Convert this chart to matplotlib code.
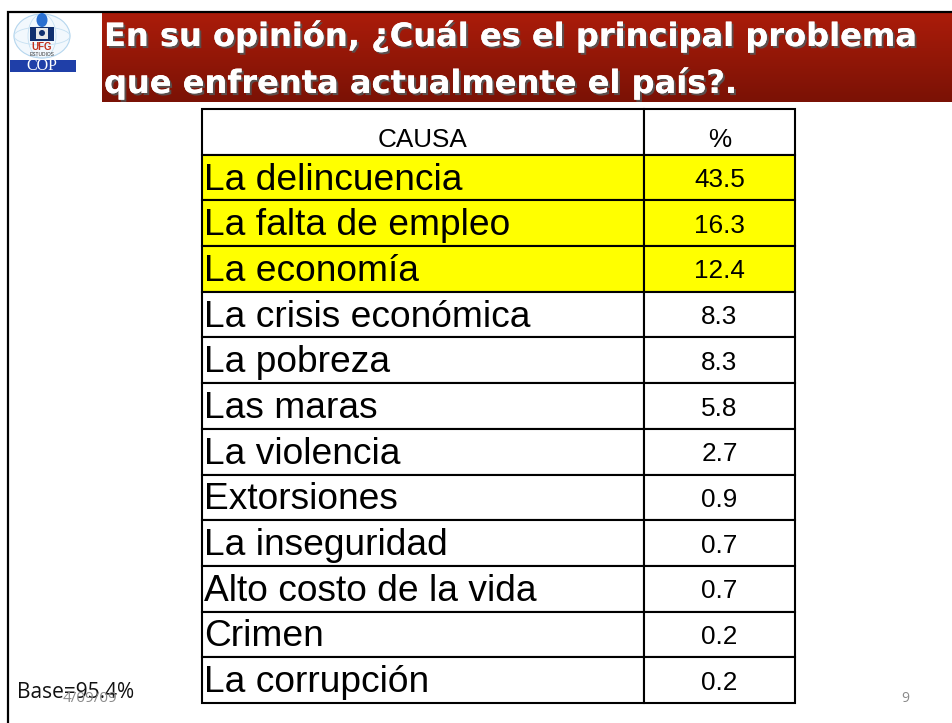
import numpy as np
import matplotlib
matplotlib.use('Agg')
import matplotlib.pyplot as plt
import matplotlib.patheffects as pe
from matplotlib.patches import Ellipse, Rectangle, Circle
from matplotlib.transforms import Affine2D

title_lines = ['En su opinión, ¿Cuál es el principal problema',
               'que enfrenta actualmente el país?.']
header = ['CAUSA', '%']
causas = ['La delincuencia', 'La falta de empleo', 'La economía',
          'La crisis económica', 'La pobreza', 'Las maras', 'La violencia',
          'Extorsiones', 'La inseguridad', 'Alto costo de la vida',
          'Crimen', 'La corrupción']
porcentajes = ['43.5', '16.3', '12.4', '8.3', '8.3', '5.8', '2.7',
               '0.9', '0.7', '0.7', '0.2', '0.2']
resaltadas = 3

W, H = 952, 723
fig = plt.figure(figsize=(W/100, H/100), dpi=100)
ax = fig.add_axes([0, 0, 1, 1])
ax.set_xlim(0, W)
ax.set_ylim(H, 0)
ax.axis('off')

# marco de la diapositiva
ax.plot([8, 8, W], [H, 12, 12], color='black', lw=1.6, solid_joinstyle='miter')

# banda del titulo con degradado
grad = np.linspace(0, 1, 90)[:, None]
top = np.array([0.67, 0.11, 0.04])
bot = np.array([0.48, 0.07, 0.02])
img = top[None, None, :] * (1 - grad[..., None]) + bot[None, None, :] * grad[..., None]
ax.imshow(img, extent=[102, W, 102, 13], aspect='auto', zorder=1)
ax.set_xlim(0, W)
ax.set_ylim(H, 0)

sombra = [pe.withSimplePatchShadow(offset=(1.5, -1.5), shadow_rgbFace='#555555', alpha=0.9), pe.Normal()]
for linea, yb in zip(title_lines, [46, 93]):
    ax.text(104, yb, linea, color='white', fontsize=23.1, fontweight='bold', family='DejaVu Sans',
            va='baseline', ha='left', zorder=3, path_effects=sombra)

# logo
ax.add_patch(Ellipse((42, 36), 56, 44, fc='#f2f8fd', ec='#b5d6ee', lw=0.8, zorder=2))
ax.add_patch(Ellipse((42, 36), 28, 44, fc='none', ec='#c5e0f2', lw=0.6, zorder=2))
ax.add_patch(Ellipse((42, 36), 56, 18, fc='none', ec='#c5e0f2', lw=0.6, zorder=2))
ax.add_patch(Rectangle((30, 27), 24, 14, fc='#12306f', ec='none', zorder=3))
ax.add_patch(Ellipse((42, 20), 11, 14, fc='#2a6fd0', ec='none', zorder=3))
ax.add_patch(Rectangle((36, 28), 12, 11, fc='#e8e8e8', ec='none', zorder=4))
ax.add_patch(Circle((42, 33), 3, fc='#12306f', ec='none', zorder=5))
ax.text(42, 47, 'UFG', color='#c0301c', fontsize=7, fontweight='bold', ha='center', va='center',
        family='Liberation Sans', zorder=4)
ax.text(42, 54.5, 'ESTUDIOS', color='#333333', fontsize=3.5, ha='center', va='center',
        family='Liberation Sans', zorder=4)
ax.add_patch(Rectangle((10, 60), 66, 12, fc='#1f3fa8', ec='none', zorder=3))
ax.text(42, 66, 'COP', color='white', fontsize=11.5, ha='center', va='center',
        family='Liberation Serif', zorder=4)

# tabla
filas = [[c, p] for c, p in zip(causas, porcentajes)]
tx0, tx1, tx2 = 202, 644, 795
ty0, ty1 = 109, 703
tabla = ax.table(cellText=[header] + filas,
                 colWidths=[tx1 - tx0, tx2 - tx1],
                 bbox=[tx0 / W, 1 - ty1 / H, (tx2 - tx0) / W, (ty1 - ty0) / H],
                 cellLoc='center')
tabla.auto_set_font_size(False)
for (r, c), cell in tabla.get_celld().items():
    cell.set_linewidth(1.5)
    cell.set_edgecolor('black')
    cell.set_zorder(5)
    txt = cell.get_text()
    txt.set_family('Liberation Sans')
    # el texto de la celda va en pixeles: se baja un poco, la cabecera mas
    txt.set_transform(Affine2D().translate(0, -8.5 if r == 0 else -2.5))
    if r > 0 and r <= resaltadas:
        cell.set_facecolor('#ffff00')
    if r > 0 and c == 0:
        cell.PAD = 0.004
        cell.set_text_props(ha='left')
        txt.set_fontsize(26.7)
    else:
        txt.set_fontsize(18.8)

# pie
ax.text(17, 692, 'Base=95.4%', fontsize=15, family='Open Sans', ha='left', va='center', color='#111111', zorder=3)
ax.text(90, 698, '4/09/09', fontsize=11, family='Open Sans', ha='center', va='center', color='#8a8a8a', zorder=4)
ax.text(905, 698, '9', fontsize=10, family='Open Sans', ha='center', va='center', color='#8a8a8a')

fig.savefig('out.png', dpi=100)
